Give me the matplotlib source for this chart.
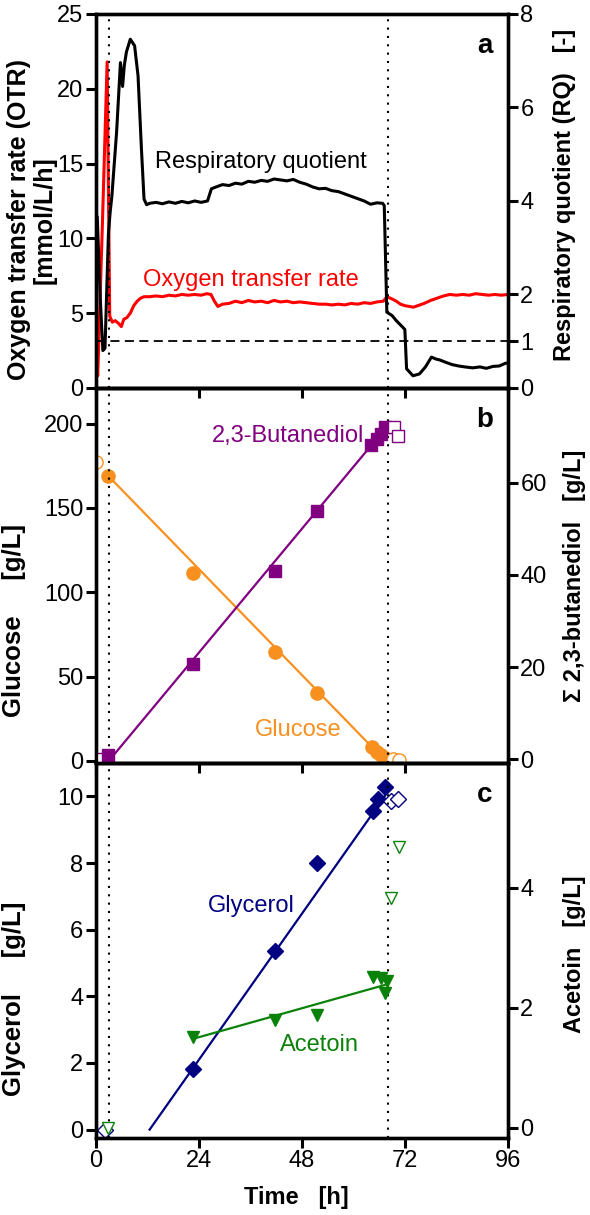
import matplotlib.pyplot as plt

plt.rcParams['font.family'] = ['Liberation Sans', 'DejaVu Sans']
plt.rcParams['font.size'] = 17

# ---------------- data ----------------
# panel a: online signals
otr_t = [0, 0.4, 1.5, 2.6, 3.2, 3.8, 4.5, 5.3, 5.9, 6.5, 7.2, 8.0, 8.8, 9.6, 10.4, 11.2,
         12.5, 14, 15.5, 17, 18.5, 20, 21.5, 23, 24.5, 25.8, 26.8, 27.6, 28.4, 29.5,
         31, 32.5, 34, 35.5, 37, 38.5, 40, 41.5, 43, 44.5, 46, 47.5, 49, 50.5, 52,
         53.5, 55, 56.5, 58, 59.5, 61, 62.5, 64, 65.5, 67, 67.8, 69, 70, 71, 72, 73,
         74, 75, 76.5, 78, 79.5, 81, 82.5, 84, 85.5, 87, 88.5, 90, 91.5, 93, 94.5, 96]
otr = [2.4, 0.8, 11.0, 21.8, 4.8, 4.4, 4.5, 4.3, 4.1, 4.6, 4.7, 5.0, 5.5, 5.8, 6.0, 6.1,
       6.1, 6.15, 6.1, 6.2, 6.15, 6.25, 6.2, 6.25, 6.2, 6.3, 6.25, 5.8, 5.45, 5.6,
       5.65, 5.8, 5.7, 5.85, 5.75, 5.8, 5.7, 5.85, 5.75, 5.8, 5.7, 5.75, 5.7, 5.65, 5.6,
       5.6, 5.55, 5.6, 5.55, 5.65, 5.6, 5.7, 5.65, 5.75, 5.8, 6.1, 5.95, 5.8, 5.6, 5.5, 5.45,
       5.4, 5.5, 5.65, 5.85, 6.0, 6.15, 6.25, 6.2, 6.25, 6.2, 6.3, 6.25, 6.2, 6.25, 6.2, 6.25]

rq_t = [0.3, 1.0, 1.6, 2.1, 2.9, 3.3, 3.7, 4.8, 5.7, 6.2, 6.6, 7.1, 8.0, 9.0, 9.8, 10.6,
        11.2, 11.8, 12.5, 14, 15.5, 17, 18.5, 20, 21.5, 23, 24.5, 26.0, 26.9, 28, 29.5,
        31, 32.5, 34, 35.5, 37, 38.5, 40, 41.5, 43, 44.5, 46, 47.5, 49, 50.5, 52, 53.5,
        55, 56.5, 58, 59.5, 61, 62.5, 64, 65.5, 66.8, 67.2, 67.8, 69, 70, 71.5, 72.0,
        72.4, 73.9, 75.4, 76.8, 78.2, 79.2, 80.1, 81.5, 83, 84.5, 86, 87.8, 89.5, 91,
        92.5, 94, 95.5, 96]
rq = [3.65, 1.9, 0.8, 0.85, 3.3, 3.76, 4.1, 5.47, 6.96, 6.45, 6.9, 7.19, 7.46, 7.32, 6.68,
      5.1, 4.04, 3.92, 3.95, 3.97, 3.94, 3.98, 3.95, 3.99, 3.96, 4.0, 3.97, 4.0, 4.26, 4.3,
      4.35, 4.33, 4.38, 4.36, 4.42, 4.4, 4.44, 4.42, 4.47, 4.45, 4.43, 4.46, 4.4, 4.36,
      4.3, 4.26, 4.27, 4.22, 4.2, 4.15, 4.1, 4.05, 4.0, 3.93, 3.96, 3.95, 3.9, 1.62, 1.55,
      1.44, 1.3, 1.25, 0.41, 0.26, 0.3, 0.45, 0.66, 0.62, 0.6, 0.55, 0.5, 0.47, 0.45,
      0.43, 0.45, 0.42, 0.46, 0.47, 0.53, 0.53]

feed_times = [3, 68]

# panel b: glucose (left) and 2,3-butanediol (right)
glc_t = [2.9, 22.7, 41.7, 51.5, 64.3, 65.5, 66.5, 67.3]
glc = [168.6, 111.7, 64.8, 40.5, 8.5, 5.5, 3.5, 1.5]
glc_open_t = [0, 69.2, 70.6]
glc_open = [177, 1.0, 0.3]
glc_fit_t = [3, 67.5]
glc_fit = [168.6, 0]

bdo_t = [2.8, 22.7, 41.7, 51.5, 64.2, 65.4, 66.5, 67.3]
bdo = [0.9, 20.7, 40.9, 53.8, 68.1, 69.5, 70.6, 72.0]
bdo_open_t = [0, 69.5, 70.5]
bdo_open = [0, 72.0, 70.2]
bdo_fit_t = [3.3, 67.5]
bdo_fit = [0, 71.8]

# panel c: glycerol (left) and acetoin (right)
gly_t = [22.7, 41.7, 51.5, 64.6, 65.7, 67.3]
gly = [1.83, 5.36, 8.0, 9.57, 9.92, 10.28]
gly_open_t = [2.0, 68.8, 70.4]
gly_open = [0, 9.87, 9.92]
gly_fit_t = [12.5, 67.3]
gly_fit = [0, 10.0]

ace_t = [22.7, 41.7, 51.5, 64.6, 66.5, 67.3, 67.8]
ace = [1.52, 1.8, 1.88, 2.52, 2.5, 2.24, 2.45]
ace_open_t = [2.8, 68.8, 70.6]
ace_open = [0, 3.83, 4.68]
ace_fit_t = [23, 67.3]
ace_fit = [1.49, 2.38]

# colours
c_otr = '#ff0000'
c_glc = '#f7901e'
c_bdo = '#800080'
c_gly = '#000080'
c_ace = '#0a820a'

fig = plt.figure(figsize=(5.9, 12.15), dpi=100)
left, width = 0.1627, 0.698
ax_a = fig.add_axes([left, 0.6807, width, 0.3078])
ax_b = fig.add_axes([left, 0.3720, width, 0.3086])
ax_c = fig.add_axes([left, 0.0634, width, 0.3086])
ax_a2 = ax_a.twinx()
ax_b2 = ax_b.twinx()
ax_c2 = ax_c.twinx()

for ax in [ax_a, ax_b, ax_c]:
    ax.patch.set_visible(False)

# ---- panel a ----
ax_a.plot(otr_t, otr, color=c_otr, lw=2.2)
ax_a2.plot(rq_t, rq, color='black', lw=2.2)
ax_a2.axhline(1, color='black', lw=1.3, ls=(0, (5, 3)))
ax_a.set_ylim(0, 25)
ax_a.set_yticks([0, 5, 10, 15, 20, 25])
ax_a2.set_ylim(0, 8)
ax_a2.set_yticks([0, 1, 2, 4, 6, 8])
ax_a.text(13.7, 15.1, 'Respiratory quotient', color='black', va='center', ha='left')
ax_a.text(11.0, 7.2, 'Oxygen transfer rate', color=c_otr, va='center', ha='left')
ax_a.set_ylabel('Oxygen transfer rate (OTR)\n[mmol/L/h]', fontweight='bold',
                fontsize=18, linespacing=1.1)
ax_a2.set_ylabel('Respiratory quotient (RQ)   [-]', fontweight='bold')

# ---- panel b ----
ax_b.plot(glc_fit_t, glc_fit, color=c_glc, lw=1.6)
ax_b.plot(glc_t, glc, 'o', color=c_glc, ms=9.5)
ax_b.plot(glc_open_t, glc_open, 'o', mfc='white', mec=c_glc, ms=9.5, mew=1)
ax_b2.plot(bdo_fit_t, bdo_fit, color=c_bdo, lw=1.6)
ax_b2.plot(bdo_t, bdo, 's', color=c_bdo, ms=8)
ax_b2.plot(bdo_open_t, bdo_open, 's', mfc='white', mec=c_bdo, ms=8, mew=1)
ax_b.set_ylim(-1.2, 221)
ax_b.set_yticks([0, 50, 100, 150, 200])
ax_b2.set_ylim(-0.8, 80.5)
ax_b2.set_yticks([0, 20, 40, 60])
ax_b2.text(26.9, 70, '2,3-Butanediol', color=c_bdo, va='center', ha='left')
ax_b.text(37.0, 18.4, 'Glucose', color=c_glc, va='center', ha='left')
ax_b.set_ylabel('Glucose     [g/L]', fontweight='bold', fontsize=18.5)
ax_b2.set_ylabel('\u03a3 2,3-butanediol   [g/L]', fontweight='bold')

# ---- panel c ----
ax_c.plot(gly_fit_t, gly_fit, color=c_gly, lw=1.6)
ax_c.plot(gly_t, gly, 'D', color=c_gly, ms=8)
ax_c.plot(gly_open_t, gly_open, 'D', mfc='white', mec=c_gly, ms=8, mew=1)
ax_c2.plot(ace_fit_t, ace_fit, color=c_ace, lw=1.6)
ax_c2.plot(ace_t, ace, 'v', color=c_ace, ms=9)
ax_c2.plot(ace_open_t, ace_open, 'v', mfc='white', mec=c_ace, ms=9, mew=1)
ax_c.set_ylim(-0.25, 11.0)
ax_c.set_yticks([0, 2, 4, 6, 8, 10])
ax_c2.set_ylim(-0.17, 6.08)
ax_c2.set_yticks([0, 2, 4])
ax_c.text(26.1, 6.7, 'Glycerol', color=c_gly, va='center', ha='left')
ax_c.text(42.8, 2.53, 'Acetoin', color=c_ace, va='center', ha='left')
ax_c.set_ylabel('Glycerol     [g/L]', fontweight='bold', fontsize=18.5)
ax_c2.set_ylabel('Acetoin   [g/L]', fontweight='bold')
ax_c.set_xlabel('Time   [h]', fontweight='bold')

# ---- common styling ----
for ax, letter in [(ax_a, 'a'), (ax_b, 'b'), (ax_c, 'c')]:
    for t in feed_times:
        ax.axvline(t, color='black', lw=1.5, ls=(0, (1, 3)))
    ax.set_xlim(0, 96)
    ax.set_xticks([0, 24, 48, 72, 96])
    ax.text(0.944, 0.915, letter, transform=ax.transAxes, fontsize=20,
            fontweight='bold', ha='center', va='center')
    if ax is not ax_c:
        ax.tick_params(axis='x', labelbottom=False)

for ax in [ax_a, ax_b, ax_c, ax_a2, ax_b2, ax_c2]:
    for s in ax.spines.values():
        s.set_linewidth(2.4)
    ax.tick_params(direction='out', length=7, width=2.2, labelsize=17, pad=2)

# label anchors: left labels -> right edge, right labels -> left edge, xlabel -> top
ax_a.yaxis.set_label_coords(-0.095, 0.45)
ax_a2.yaxis.set_label_coords(1.109, 0.516)
ax_b.yaxis.set_label_coords(-0.17, 0.38)
ax_b2.yaxis.set_label_coords(1.133, 0.50)
ax_c.yaxis.set_label_coords(-0.17, 0.37)
ax_c2.yaxis.set_label_coords(1.133, 0.49)
ax_c.xaxis.set_label_coords(0.487, -0.128)

fig.savefig('out.png', dpi=100)
